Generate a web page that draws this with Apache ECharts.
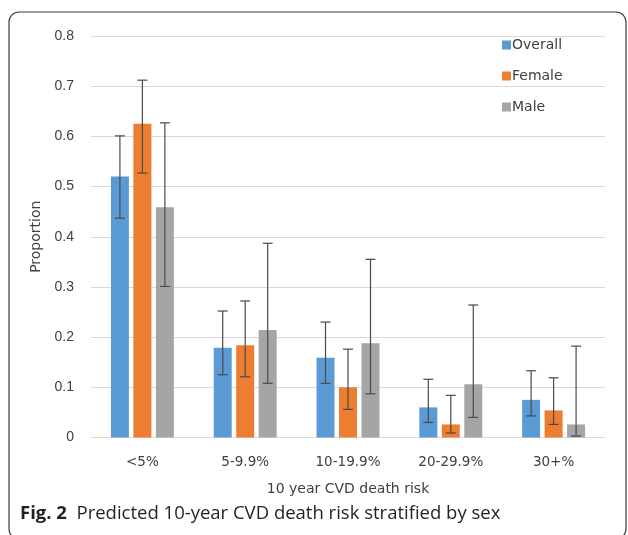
<!DOCTYPE html>
<html><head><meta charset="utf-8">
<script src="https://cdn.jsdelivr.net/npm/echarts@6/dist/echarts.min.js"></script>
<style>html,body{margin:0;padding:0;background:#fff}#c{width:628px;height:535px}</style>
</head><body><div id="c"></div>
<script>
const categories = ['<5%', '5-9.9%', '10-19.9%', '20-29.9%', '30+%'];
const seriesNames = ['Overall', 'Female', 'Male'];
const overall = [0.520, 0.179, 0.159, 0.060, 0.075];
const overallLow = [0.437, 0.125, 0.108, 0.030, 0.043];
const overallHigh = [0.601, 0.252, 0.230, 0.116, 0.133];
const female = [0.625, 0.184, 0.100, 0.026, 0.054];
const femaleLow = [0.527, 0.121, 0.056, 0.009, 0.026];
const femaleHigh = [0.712, 0.272, 0.176, 0.084, 0.119];
const male = [0.459, 0.214, 0.188, 0.106, 0.026];
const maleLow = [0.301, 0.108, 0.087, 0.040, 0.003];
const maleHigh = [0.627, 0.387, 0.355, 0.264, 0.182];
const yTicks = [0, 0.1, 0.2, 0.3, 0.4, 0.5, 0.6, 0.7, 0.8];
const colors = ['#5B9BD5', '#ED7D31', '#A5A5A5'];

const values = [overall, female, male];
const lows = [overallLow, femaleLow, maleLow];
const highs = [overallHigh, femaleHigh, maleHigh];
const barW = 0.175, gapFrac = 0.25;
const step = barW * (1 + gapFrac);
const offsets = [-step, 0, step];

const series = [];
values.forEach((v, i) => {
  series.push({
    name: seriesNames[i], type: 'bar', data: v,
    barWidth: (barW * 100) + '%', barGap: (gapFrac * 100) + '%',
    itemStyle: { color: colors[i] }, z: 2
  });
});
values.forEach((v, i) => {
  series.push({
    name: seriesNames[i] + ' CI', type: 'custom', z: 5,
    data: categories.map((c, k) => [k, lows[i][k], highs[i][k]]),
    encode: { x: 0, y: [1, 2] },
    renderItem: function (params, api) {
      const k = api.value(0);
      const band = api.size([1, 0])[0];
      const hi = api.coord([k, api.value(2)]);
      const lo = api.coord([k, api.value(1)]);
      const x = hi[0] + offsets[i] * band;
      const cap = 5;
      const st = { stroke: '#4a4a4a', lineWidth: 1.2 };
      return { type: 'group', children: [
        { type: 'line', shape: { x1: x, y1: hi[1], x2: x, y2: lo[1] }, style: st },
        { type: 'line', shape: { x1: x - cap, y1: hi[1], x2: x + cap, y2: hi[1] }, style: st },
        { type: 'line', shape: { x1: x - cap, y1: lo[1], x2: x + cap, y2: lo[1] }, style: st }
      ]};
    }
  });
});

const chart = echarts.init(document.getElementById('c'), null, { renderer: 'canvas' });
chart.setOption({
  animation: false,
  backgroundColor: '#fff',
  grid: { left: 91, right: 23, top: 36, bottom: 97.5 },
  legend: {
    data: seriesNames, orient: 'vertical', left: 497, top: 33,
    itemWidth: 9, itemHeight: 9, itemGap: 17, icon: 'rect',
    textStyle: { fontFamily: 'DejaVu Sans', fontSize: 14, color: '#404040', padding: [0, 0, 0, -4] }
  },
  xAxis: {
    type: 'category', data: categories,
    axisLine: { lineStyle: { color: '#d9d9d9' } }, axisTick: { show: false },
    axisLabel: { fontFamily: 'DejaVu Sans', fontSize: 13.5, color: '#404040', margin: 18 },
    name: '10 year CVD death risk', nameLocation: 'middle', nameGap: 45,
    nameTextStyle: { fontFamily: 'DejaVu Sans', fontSize: 14, color: '#404040' }
  },
  yAxis: {
    type: 'value', min: 0, max: 0.8, interval: 0.1,
    axisLine: { show: false }, axisTick: { show: false },
    splitLine: { lineStyle: { color: '#d9d9d9' } },
    axisLabel: { fontFamily: 'Liberation Sans', fontSize: 14, color: '#404040', margin: 17,
      formatter: v => { const t = yTicks.find(q => Math.abs(q - v) < 1e-9); return t === 0 ? '0' : String(+t.toFixed(1)); } },
    name: 'Proportion', nameLocation: 'middle', nameGap: 47, nameRotate: 90,
    nameTextStyle: { fontFamily: 'DejaVu Sans', fontSize: 14, color: '#404040' }
  },
  graphic: [
    { type: 'rect', shape: { x: 9, y: 12, width: 617, height: 527, r: 10 },
      style: { fill: 'none', stroke: '#3a3a3a', lineWidth: 1.2 }, z: 100 },
    { type: 'text', left: 20, top: 504, z: 100,
      style: { text: '{b|Fig. 2}  Predicted 10-year CVD death risk stratified by sex',
        font: '18.5px "Open Sans"', fill: '#231f20',
        rich: { b: { fontFamily: 'Open Sans', fontWeight: 'bold', fontSize: 18.5, fill: '#231f20' } } } }
  ],
  series: series
});
</script></body></html>
